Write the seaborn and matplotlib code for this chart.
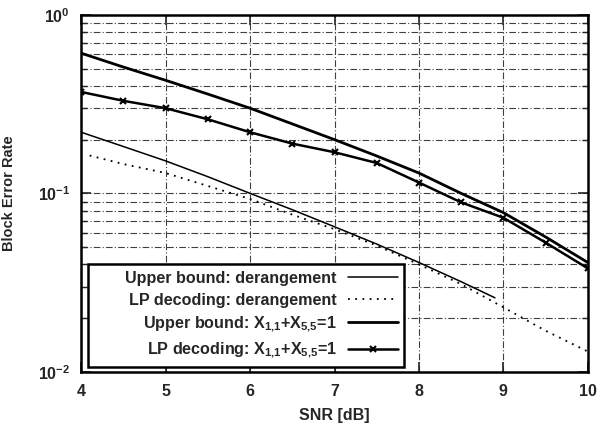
import matplotlib
matplotlib.use('Agg')
from matplotlib import pyplot as plt
from matplotlib.offsetbox import DrawingArea
import seaborn as sns

# Block error rate vs SNR
snr_ub_der = [4.0, 4.5, 5.0, 5.5, 6.0, 6.5, 7.0, 7.5, 8.0, 8.5, 8.9]
ber_ub_der = [0.22, 0.183, 0.152, 0.124, 0.100, 0.081, 0.065, 0.052, 0.041, 0.032, 0.026]

snr_lp_der = [4.1, 4.5, 5.0, 5.5, 6.0, 6.5, 7.0, 7.5, 8.0, 8.5, 9.0, 9.5, 10.0]
ber_lp_der = [0.163, 0.146, 0.13, 0.11, 0.093, 0.076, 0.063, 0.051, 0.040, 0.031, 0.023, 0.017, 0.013]

snr_ub_x = [4.0, 4.5, 5.0, 5.5, 6.0, 6.5, 7.0, 7.5, 8.0, 8.5, 9.0, 9.5, 10.0]
ber_ub_x = [0.61, 0.51, 0.43, 0.36, 0.30, 0.245, 0.20, 0.162, 0.13, 0.10, 0.078, 0.057, 0.041]

snr_lp_x = [4.0, 4.5, 5.0, 5.5, 6.0, 6.5, 7.0, 7.5, 8.0, 8.5, 9.0, 9.5, 10.0]
ber_lp_x = [0.37, 0.33, 0.30, 0.26, 0.22, 0.19, 0.17, 0.148, 0.115, 0.089, 0.073, 0.053, 0.038]

x_ticks = [4, 5, 6, 7, 8, 9, 10]

sns.set_style('ticks')
plt.rcParams['font.family'] = ['Liberation Sans', 'DejaVu Sans']
plt.rcParams['font.weight'] = 'bold'
plt.rcParams['mathtext.fontset'] = 'custom'
plt.rcParams['mathtext.rm'] = 'Liberation Sans:bold'
plt.rcParams['mathtext.bf'] = 'Liberation Sans:bold'
plt.rcParams['mathtext.it'] = 'Liberation Sans:bold'
plt.rcParams['mathtext.default'] = 'bf'
plt.rcParams['xtick.direction'] = 'in'
plt.rcParams['ytick.direction'] = 'in'

fig = plt.figure(figsize=(6.06, 4.25), dpi=100)
ax = fig.add_axes([0.134, 0.125, 0.836, 0.84])

sns.lineplot(x=snr_ub_der, y=ber_ub_der, ax=ax, color='black', lw=1.1,
             label='Upper bound: derangement')
sns.lineplot(x=snr_lp_der, y=ber_lp_der, ax=ax, color='black', lw=1.3,
             linestyle=(0, (1, 3)), label='LP decoding: derangement')
sns.lineplot(x=snr_ub_x, y=ber_ub_x, ax=ax, color='black', lw=2.0,
             label='Upper bound: $X_{1{,}1}$+$X_{5{,}5}$=1')
sns.lineplot(x=snr_lp_x, y=ber_lp_x, ax=ax, color='black', lw=1.8,
             marker='x', markersize=5, markeredgewidth=1.5, markeredgecolor='black',
             label='LP decoding: $X_{1{,}1}$+$X_{5{,}5}$=1')

ax.set_yscale('log')
ax.set_xlim(4, 10)
ax.set_ylim(1e-2, 1e0)
ax.set_xticks(x_ticks)
ax.set_xticklabels([str(t) for t in x_ticks])

grid_style = dict(color='0.25', linestyle=(0, (6, 2, 1, 2)), linewidth=0.8)
ax.grid(True, which='major', axis='both', **grid_style)
ax.grid(True, which='minor', axis='y', **grid_style)

ax.tick_params(which='both', top=True, right=True, labelsize=11.5)
ax.tick_params(which='major', length=7, width=1.2)
ax.tick_params(which='minor', length=4, width=1.0)
ax.tick_params(axis='x', which='major', pad=9)
ax.tick_params(axis='y', which='major', pad=8)
for side in ax.spines.values():
    side.set_linewidth(1.8)
    side.set_color('black')

ax.set_xlabel('SNR [dB]', fontsize=11.5, fontweight='bold', labelpad=6)
ax.set_ylabel('Block Error Rate', fontsize=10.5, fontweight='bold', labelpad=16)

leg = ax.legend(loc='lower left', bbox_to_anchor=(0.014, 0.014), borderaxespad=0,
                markerfirst=False, fancybox=False, framealpha=1, edgecolor='black',
                fontsize=11.6, handlelength=3.1, labelspacing=0.42, borderpad=0.4,
                handletextpad=0.7, columnspacing=1.2)
leg.get_frame().set_linewidth(1.8)
for col in leg._legend_handle_box.get_children():
    col.align = 'right'
# gnuplot-style key: extra blank space left of the labels
leg._legend_handle_box._children.insert(0, DrawingArea(8, 1))

fig.savefig('out.png', dpi=100)
